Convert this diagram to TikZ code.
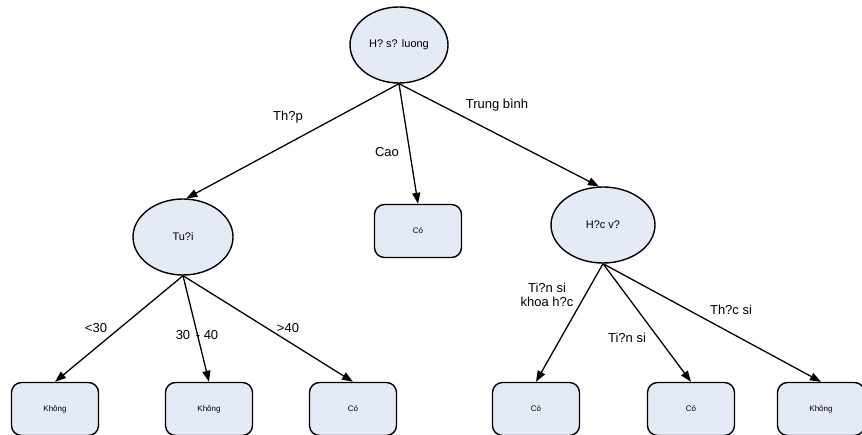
\documentclass[tikz,border=0pt]{standalone}
\usepackage{fontspec}
\setmainfont{Liberation Sans}
\usetikzlibrary{arrows.meta,shapes.geometric}
\definecolor{nodefill}{RGB}{228,234,246}
\tikzset{
  decision/.style={ellipse, draw=black, line width=1.4pt, fill=nodefill,
    minimum width=#1, minimum height=76pt, inner sep=0pt,
    font=\fontsize{11}{13}\selectfont},
  leaf/.style={rectangle, rounded corners=10pt, draw=black, line width=1.4pt,
    fill=nodefill, minimum width=87pt, minimum height=53pt, inner sep=0pt,
    font=\fontsize{8}{10}\selectfont},
  branch/.style={draw=black, line width=1.3pt,
    -{Triangle[length=11pt,width=8pt]}},
  edgelabel/.style={font=\fontsize{13}{14.5}\selectfont, align=center,
    inner sep=0pt}
}
\begin{document}
\begin{tikzpicture}[x=1pt,y=-1pt]
\useasboundingbox (0,0) rectangle (862,435);

% decision nodes
\node[decision=98pt]  (root) at (399,45)  {H? s? luong};
\node[decision=100pt] (tuoi) at (183,237) {Tu?i};
\node[decision=104pt] (hv)   at (603,225) {H?c v?};

% leaves
\node[leaf] (cao)  at (418,231) {Có};
\node[leaf] (l1)   at (55,409)  {Không};
\node[leaf] (l2)   at (209,409) {Không};
\node[leaf] (l3)   at (353,409) {Có};
\node[leaf] (l4)   at (536,409) {Có};
\node[leaf] (l5)   at (691,409) {Có};
\node[leaf] (l6)   at (821,409) {Không};

% branches
\draw[branch] (root.south) -- (tuoi.85);
\draw[branch] (root.south) -- (cao.north);
\draw[branch] (root.south) -- (hv.96);
\draw[branch] (tuoi.south) -- (l1.north);
\draw[branch] (tuoi.south) -- (l2.north);
\draw[branch] (tuoi.south) -- (l3.north);
\draw[branch] (hv.south) -- (l4.north);
\draw[branch] (hv.south) -- (l5.north);
\draw[branch] (hv.south) -- (l6.north);

% branch labels
\node[edgelabel] (lthap) at (288,117) {Th?p};
\node[edgelabel] (lcao)  at (387,152) {Cao};
\node[edgelabel] (ltb)   at (497,105) {Trung bình};
\node[edgelabel] (llt)   at (96,328)  {<30};
\node[edgelabel] (lmid)  at (197,335) {30 \hspace{2pt}- 40};
\node[edgelabel] (lgt)   at (288,328) {>40};
\node[edgelabel] (lts1)  at (547,295) {Ti?n si\\[-1pt]khoa h?c};
\node[edgelabel] (lts2)  at (627,338) {Ti?n si};
\node[edgelabel] (lths)  at (731,310) {Th?c si};
\end{tikzpicture}
\end{document}
